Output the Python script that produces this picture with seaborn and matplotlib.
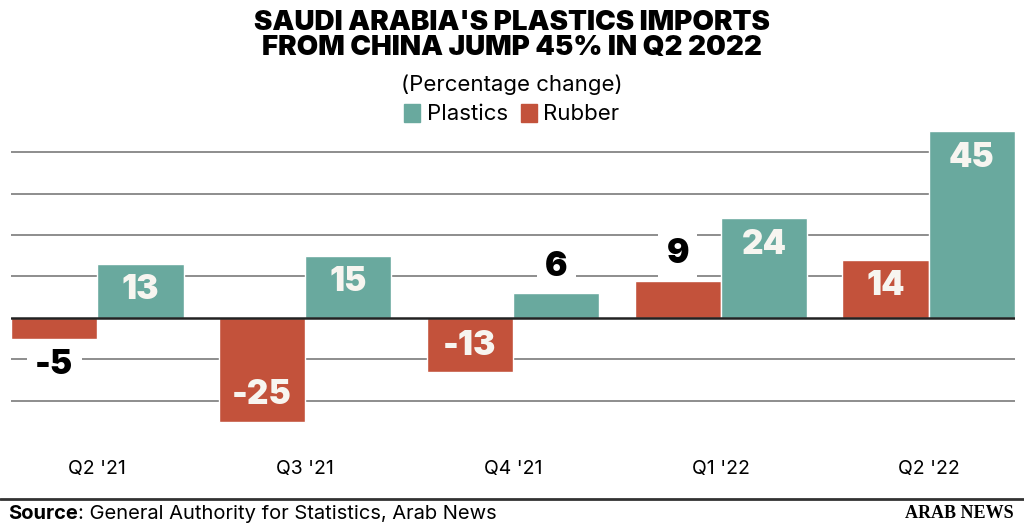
import pandas as pd
import numpy as np
import seaborn as sns
import matplotlib.pyplot as plt
from matplotlib.patches import Patch
from matplotlib.lines import Line2D

# Chart data
quarters = ["Q2 '21", "Q3 '21", "Q4 '21", "Q1 '22", "Q2 '22"]
plastics = [13, 15, 6, 24, 45]
rubber = [-5, -25, -13, 9, 14]

teal = '#69a99e'
red = '#c3523b'

df = pd.DataFrame({
    'quarter': quarters * 2,
    'value': rubber + plastics,
    'series': ['Rubber'] * len(quarters) + ['Plastics'] * len(quarters),
})

sns.set_style('white')
plt.rcParams['font.family'] = ['Inter', 'DejaVu Sans']
plt.rcParams['text.color'] = 'black'
plt.rcParams['xtick.color'] = 'black'

fig = plt.figure(figsize=(10.24, 5.29), dpi=100)
ax = fig.add_axes([11 / 1024, 1 - 430 / 529, 1004 / 1024, 307 / 529])

sns.barplot(data=df, x='quarter', y='value', hue='series',
            hue_order=['Rubber', 'Plastics'], order=quarters,
            palette={'Rubber': red, 'Plastics': teal},
            width=0.83, gap=0, saturation=1, legend=False, ax=ax, zorder=3)

ax.set_xlim(-0.415, len(quarters) - 1 + 0.415)
ax.set_ylim(-27, 47)
ax.set_yticks([-20, -10, 10, 20, 30, 40])
ax.yaxis.grid(True, color='#7a7a7a', linewidth=1.2, zorder=0)
ax.set_axisbelow(True)
ax.axhline(0, color='#222222', linewidth=1.8, zorder=4)
ax.tick_params(axis='y', left=False, labelleft=False)
ax.tick_params(axis='x', bottom=False, pad=18, labelsize=14, labelcolor='black')
ax.set_xlabel('')
ax.set_ylabel('')
sns.despine(ax=ax, left=True, bottom=True)

# Value labels
for container in ax.containers:
    for bar in container:
        h = bar.get_height()
        if np.isnan(h):
            continue
        xc = bar.get_x() + bar.get_width() / 2
        sign = 1 if h >= 0 else -1
        if abs(h) >= 10:
            offset, color, bbox = -19 * sign, '#f7f5f0', None
        else:
            offset, color = 19 * sign, 'black'
            bbox = dict(fc='white', ec='none', pad=6)
        ax.annotate(f'{int(h)}', (xc, h), xytext=(0, offset), textcoords='offset points',
                    ha='center', va='center', fontsize=24, fontweight='black',
                    color=color, bbox=bbox, zorder=5)

# Title, subtitle, legend
fig.text(0.5, 1 - 35 / 529, "SAUDI ARABIA'S PLASTICS IMPORTS\nFROM CHINA JUMP 45% IN Q2 2022",
         ha='center', va='center', fontsize=20, fontweight='black', linespacing=0.95)
fig.text(0.5, 1 - 85 / 529, "(Percentage change)", ha='center', va='center', fontsize=16)
handles = [Patch(color=teal, label='Plastics'), Patch(color=red, label='Rubber')]
fig.legend(handles=handles, loc='center', bbox_to_anchor=(0.5, 1 - 114 / 529), ncol=2,
           frameon=False, fontsize=16, handlelength=0.7, handleheight=0.9,
           handletextpad=0.3, columnspacing=0.6)

# Footer
fig.add_artist(Line2D([0, 1], [1 - 499 / 529] * 2, color='#333333', linewidth=2))
src = fig.text(8 / 1024, 1 - 514 / 529, 'Source', ha='left', va='center',
               fontsize=14.5, fontweight='bold')
fig.canvas.draw()
bb = src.get_window_extent(fig.canvas.get_renderer())
fig.text(bb.x1 / fig.bbox.width, 1 - 514 / 529, ': General Authority for Statistics, Arab News',
         ha='left', va='center', fontsize=14.5)
fig.text(1014 / 1024, 1 - 514 / 529, 'ARAB NEWS', ha='right', va='center',
         fontsize=13, fontweight='bold', family=['Liberation Serif', 'DejaVu Serif'])

fig.savefig('out.png', dpi=100)
